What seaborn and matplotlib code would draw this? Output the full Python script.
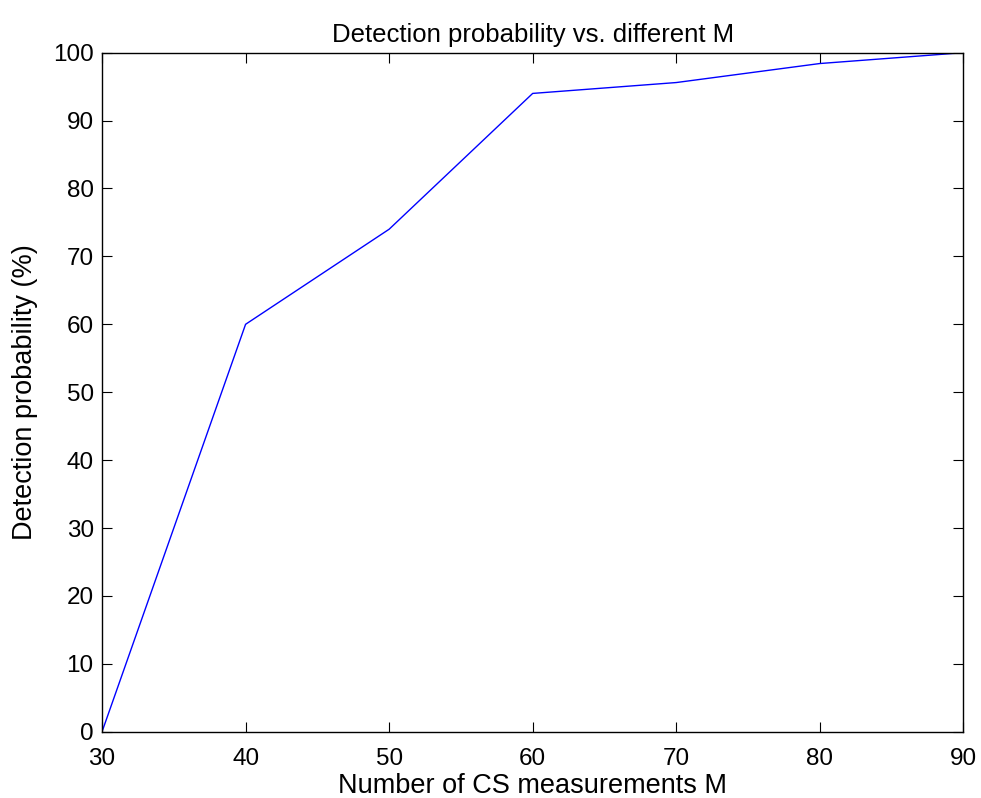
import pandas as pd
import matplotlib
matplotlib.use("Agg")
import matplotlib.pyplot as plt
import seaborn as sns

# Data
m_values = [30, 40, 50, 60, 70, 80, 90]
detect_prob = [0, 60, 74, 94, 95.6, 98.4, 100]

df = pd.DataFrame({"M": m_values, "Pd": detect_prob})

sns.set_style("white")
plt.rcParams['font.family'] = ['Liberation Sans', 'DejaVu Sans']
plt.rcParams['text.color'] = 'black'
plt.rcParams['axes.labelcolor'] = 'black'

fig = plt.figure(figsize=(9.81, 7.98), dpi=100)
ax = fig.add_axes([0.104, 0.083, 0.878, 0.851])
sns.lineplot(data=df, x="M", y="Pd", color="#0000ff", linewidth=1.0, ax=ax)

ax.set_xlim(30, 90)
ax.set_ylim(0, 100)
ax.set_xticks(range(30, 91, 10))
ax.set_yticks(range(0, 101, 10))
ax.tick_params(direction="in", length=7, width=0.8, labelsize=17.5,
               top=True, right=True, bottom=True, left=True, colors="black")
ax.tick_params(axis="x", pad=12)
ax.tick_params(axis="y", pad=6)
for s in ax.spines.values():
    s.set_color("black")
    s.set_linewidth(1.0)

ax.set_title("Detection probability vs. different M", fontsize=18.5, pad=8, color="black")
ax.set_xlabel("Number of CS measurements M", fontsize=19.5, labelpad=2, color="black")
ax.set_ylabel("Detection probability (%)", fontsize=19.5, labelpad=11, color="black")

fig.savefig("out.png", dpi=100)
